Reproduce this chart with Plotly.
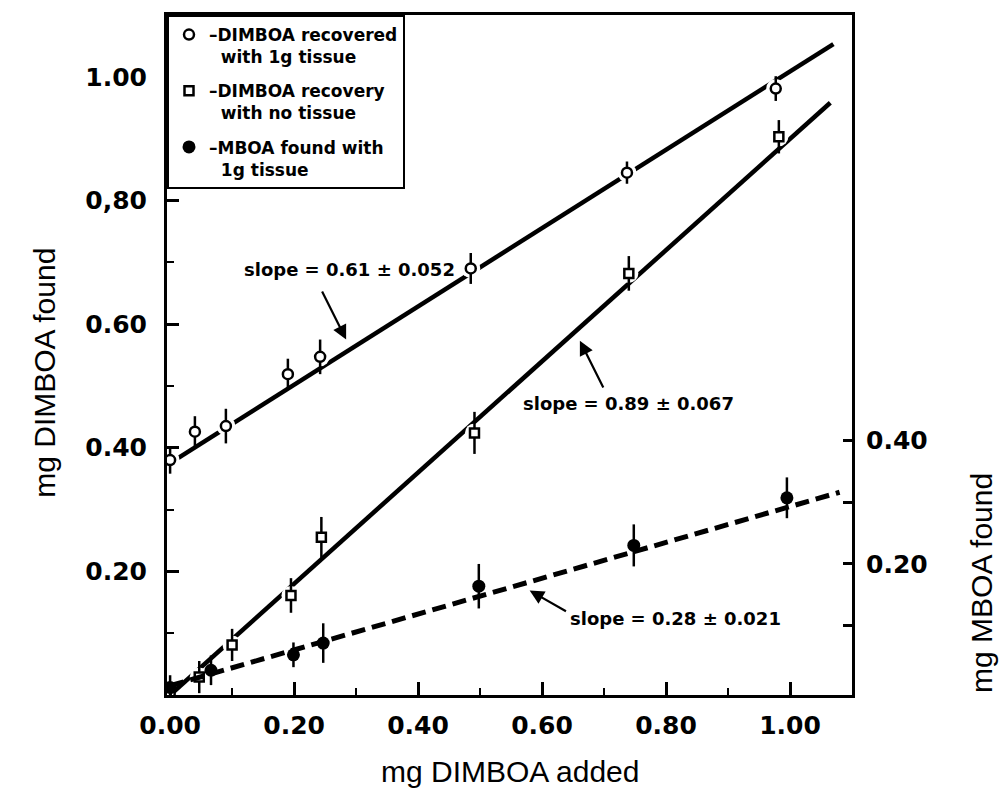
import plotly.graph_objects as go

# ---------------- data ----------------
# DIMBOA recovered with 1 g tissue (left axis)
x_tissue = [0.0, 0.04, 0.09, 0.19, 0.242, 0.485, 0.737, 0.977]
y_tissue = [0.38, 0.426, 0.435, 0.519, 0.547, 0.69, 0.845, 0.981]
err_tissue = [0.022, 0.025, 0.028, 0.025, 0.028, 0.025, 0.018, 0.02]

# DIMBOA recovery with no tissue (left axis)
x_notissue = [0.0, 0.047, 0.10, 0.195, 0.244, 0.491, 0.74, 0.982]
y_notissue = [0.0, 0.029, 0.081, 0.161, 0.255, 0.424, 0.682, 0.903]
err_notissue = [0.02, 0.026, 0.026, 0.028, 0.033, 0.034, 0.028, 0.027]

# MBOA found with 1 g tissue (right axis)
x_mboa = [0.0, 0.066, 0.199, 0.247, 0.498, 0.748, 0.995]
y_mboa = [0.0, 0.028, 0.053, 0.072, 0.164, 0.23, 0.307]
err_mboa = [0.02, 0.024, 0.02, 0.032, 0.036, 0.034, 0.033]

# fitted regression lines (end points)
fit_x_tissue = [0.0, 1.07]
fit_y_tissue = [0.375, 1.053]
fit_x_notissue = [0.0, 1.065]
fit_y_notissue = [0.0, 0.958]
fit_x_mboa = [0.0, 1.08]
fit_y_mboa = [0.003, 0.316]

# axis ticks
x_major = [0.0, 0.2, 0.4, 0.6, 0.8, 1.0]
x_major_text = ["0.00", "0.20", "0.40", "0.60", "0.80", "1.00"]
y_major = [0.2, 0.4, 0.6, 0.8, 1.0]
y_major_text = ["0.20", "0.40", "0.60", "0,80", "1.00"]
y2_ticks = [0.1, 0.2, 0.3, 0.4]
y2_text = ["", "0.20", "", "0.40"]

legend_labels = [
    "\u2013DIMBOA recovered<br>&nbsp;&nbsp;with 1g tissue",
    "\u2013DIMBOA recovery<br>&nbsp;&nbsp;with no tissue",
    "\u2013MBOA found with<br>&nbsp;&nbsp;1g tissue",
]
slope_labels = ["slope = 0.61 \u00b1 0.052", "slope = 0.89 \u00b1 0.067", "slope = 0.28 \u00b1 0.021"]

# ---------------- figure ----------------
BLACK = "black"
TICKFONT = dict(family="DejaVu Sans", size=25, color=BLACK)
fig = go.Figure()

# regression line: tissue
fig.add_trace(go.Scatter(x=fit_x_tissue, y=fit_y_tissue, mode="lines",
                         line=dict(color=BLACK, width=4.5), showlegend=False, hoverinfo="skip"))
# white halos -> gaps in the line around the points
fig.add_trace(go.Scatter(x=x_tissue, y=y_tissue, mode="markers",
                         marker=dict(symbol="circle", size=19, color="white"),
                         showlegend=False, hoverinfo="skip"))
# regression line: no tissue
fig.add_trace(go.Scatter(x=fit_x_notissue, y=fit_y_notissue, mode="lines",
                         line=dict(color=BLACK, width=4.5), showlegend=False, hoverinfo="skip"))
fig.add_trace(go.Scatter(x=x_notissue[1:], y=y_notissue[1:], mode="markers",
                         marker=dict(symbol="circle", size=19, color="white"),
                         showlegend=False, hoverinfo="skip"))

# data points
fig.add_trace(go.Scatter(
    x=x_tissue, y=y_tissue, mode="markers", showlegend=False,
    marker=dict(symbol="circle", size=10, color="white", line=dict(color=BLACK, width=2.5)),
    error_y=dict(type="data", array=err_tissue, color=BLACK, thickness=2.5, width=0)))
fig.add_trace(go.Scatter(
    x=x_notissue, y=y_notissue, mode="markers", showlegend=False,
    marker=dict(symbol="square", size=9, color="white", line=dict(color=BLACK, width=2.5)),
    error_y=dict(type="data", array=err_notissue, color=BLACK, thickness=2.5, width=0)))

# MBOA on right axis
fig.add_trace(go.Scatter(x=fit_x_mboa, y=fit_y_mboa, mode="lines", yaxis="y2",
                         line=dict(color=BLACK, width=5, dash="14px,7px"),
                         showlegend=False, hoverinfo="skip"))
fig.add_trace(go.Scatter(
    x=x_mboa, y=y_mboa, mode="markers", yaxis="y2", showlegend=False,
    marker=dict(symbol="circle", size=13, color=BLACK),
    error_y=dict(type="data", array=err_mboa, color=BLACK, thickness=2.5, width=0)))

# legend entries
fig.add_trace(go.Scatter(x=[None], y=[None], mode="markers", name=legend_labels[0],
                         legendgroup="a",
                         marker=dict(symbol="circle", size=10, color="white",
                                     line=dict(color=BLACK, width=2.5))))
fig.add_trace(go.Scatter(x=[None], y=[None], mode="markers", name=legend_labels[1],
                         legendgroup="b",
                         marker=dict(symbol="square", size=9, color="white",
                                     line=dict(color=BLACK, width=2.5))))
fig.add_trace(go.Scatter(x=[None], y=[None], mode="markers", name=legend_labels[2],
                         legendgroup="c",
                         marker=dict(symbol="circle", size=13, color=BLACK)))

# slope labels with arrows (left-axis data coordinates)
ann = []
slope_text_pos = [(0.289, 0.689), (0.74, 0.471), (0.816, 0.124)]
arrow_tail = [(0.244, 0.655), (0.70, 0.495), (0.641, 0.134)]
arrow_tip = [(0.284, 0.575), (0.661, 0.573), (0.58, 0.169)]
for lab, (tx, ty) in zip(slope_labels, slope_text_pos):
    ann.append(dict(x=tx, y=ty, xref="x", yref="y", text="<b>" + lab + "</b>",
                    xanchor="center", yanchor="middle",
                    showarrow=False, font=dict(family="DejaVu Sans", size=18, color=BLACK)))
for (ax_, ay_), (hx, hy) in zip(arrow_tail, arrow_tip):
    ann.append(dict(x=hx, y=hy, xref="x", yref="y", ax=ax_, ay=ay_, axref="x", ayref="y",
                    text="", showarrow=True, arrowhead=2, arrowsize=1.3, arrowwidth=2.2,
                    arrowcolor=BLACK))

# axis titles
TITLEFONT = dict(family="Liberation Sans", size=30, color=BLACK)
ann.append(dict(text="mg DIMBOA found", xref="paper", yref="paper", x=-0.178, y=0.474,
                xanchor="center", yanchor="middle",
                textangle=-90, showarrow=False, font=TITLEFONT))
ann.append(dict(text="mg DIMBOA added", xref="paper", yref="paper", x=0.50, y=-0.113,
                xanchor="center", yanchor="middle",
                showarrow=False, font=TITLEFONT))
ann.append(dict(text="mg MBOA found", xref="paper", yref="paper", x=1.19, y=0.165,
                xanchor="center", yanchor="middle",
                textangle=-90, showarrow=False, font=TITLEFONT))

fig.update_layout(
    width=1008, height=811,
    margin=dict(l=167, r=156, t=13, b=116),
    plot_bgcolor="white", paper_bgcolor="white",
    annotations=ann,
    showlegend=True,
    legend=dict(x=0, y=1, xanchor="left", yanchor="top",
                bordercolor=BLACK, borderwidth=2, bgcolor="white",
                font=dict(family="DejaVu Sans", size=17, color=BLACK, weight="bold"),
                tracegroupgap=9, valign="top", itemclick=False),
    xaxis=dict(range=[-0.005, 1.10], showline=True, linecolor=BLACK, linewidth=3, mirror=True,
               showgrid=False, zeroline=False,
               tickvals=x_major, ticktext=["<b>" + t + "</b>" for t in x_major_text],
               ticks="inside", ticklen=13, tickwidth=2.5, tickcolor=BLACK,
               tickfont=TICKFONT, ticklabelstandoff=6,
               minor=dict(dtick=0.1, tick0=0, ticks="inside", ticklen=7, tickwidth=2,
                          tickcolor=BLACK, showgrid=False)),
    yaxis=dict(range=[0, 1.10], showline=True, linecolor=BLACK, linewidth=3,
               showgrid=False, zeroline=False,
               tickvals=y_major, ticktext=["<b>" + t + "</b>" for t in y_major_text],
               ticks="inside", ticklen=12, tickwidth=2.5, tickcolor=BLACK,
               tickfont=TICKFONT, ticklabelstandoff=12,
               minor=dict(dtick=0.1, tick0=0, ticks="inside", ticklen=7, tickwidth=2,
                          tickcolor=BLACK, showgrid=False)),
    yaxis2=dict(range=[-0.012, 1.088], overlaying="y", side="right", showline=True,
                linecolor=BLACK, linewidth=3, showgrid=False, zeroline=False,
                tickvals=y2_ticks, ticktext=["<b>" + t + "</b>" if t else "" for t in y2_text],
                ticks="inside", ticklen=9, tickwidth=2.5, tickcolor=BLACK,
                tickfont=TICKFONT, ticklabelstandoff=6),
)

fig.write_html("out.html")
